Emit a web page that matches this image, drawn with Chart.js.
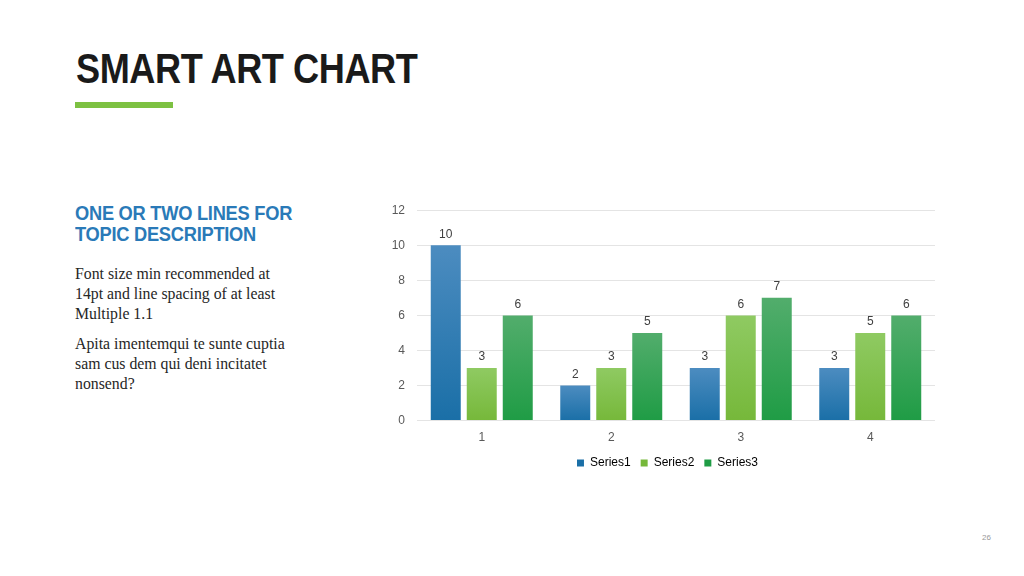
<!DOCTYPE html>
<html>
<head>
<meta charset="utf-8">
<script src="https://cdn.jsdelivr.net/npm/chart.js@4/dist/chart.umd.min.js"></script>
<style>
  html, body { margin: 0; padding: 0; background: #fff; }
  body { width: 1024px; height: 576px; position: relative; overflow: hidden; font-family: "Liberation Sans", Arial, sans-serif; }
  .title { position: absolute; left: 76px; top: 45px; font-weight: bold; font-size: 42px; color: #1a1a1a; letter-spacing: -0.5px; white-space: nowrap; transform: scaleX(0.86); transform-origin: 0 0; }
  .bar { position: absolute; left: 75px; top: 102px; width: 98px; height: 6px; background: #7dc142; }
  .sub { position: absolute; left: 75px; top: 202px; font-weight: bold; font-size: 21px; line-height: 21px; color: #2a7ab8; letter-spacing: -0.3px; white-space: nowrap; transform: scaleX(0.87); transform-origin: 0 0; }
  .body { position: absolute; left: 75px; width: 260px; font-family: "Liberation Serif", serif; font-size: 15.8px; line-height: 20px; color: #262626; white-space: nowrap; }
  .page { position: absolute; left: 982px; top: 533px; font-size: 8px; color: #999; }
  #wrap { position: absolute; left: 380px; top: 191px; width: 570px; height: 288px; }
</style>
</head>
<body>
<div class="title">SMART ART CHART</div>
<div class="bar"></div>
<div class="sub">ONE OR TWO LINES FOR<br>TOPIC DESCRIPTION</div>
<div class="body" style="top:264px">Font size min recommended at<br>14pt and line spacing of at least<br>Multiple 1.1</div>
<div class="body" style="top:334px">Apita imentemqui te sunte cuptia<br>sam cus dem qui deni incitatet<br>nonsend?</div>
<div class="page">26</div>
<div id="wrap"><canvas id="chart"></canvas></div>

<script>
const categories = ["1", "2", "3", "4"];
const series1 = [10, 2, 3, 3];
const series2 = [3, 3, 6, 5];
const series3 = [6, 5, 7, 6];
const yTicks = [0, 2, 4, 6, 8, 10, 12];

// top / bottom colours of each bar gradient
const colors = [
  ["#4c8cc0", "#1a6fa7"],
  ["#8fca62", "#76b83a"],
  ["#52ad6c", "#1f9c45"]
];

function barFill(idx) {
  return context => {
    const chart = context.chart;
    const y = chart.scales.y;
    if (!chart.chartArea || !y || context.parsed == null) return colors[idx][1];
    const top = y.getPixelForValue(context.parsed.y);
    const bottom = y.getPixelForValue(0);
    if (!isFinite(top) || top === bottom) return colors[idx][1];
    const g = chart.ctx.createLinearGradient(0, top, 0, bottom);
    g.addColorStop(0, colors[idx][0]);
    g.addColorStop(1, colors[idx][1]);
    return g;
  };
}

// value labels above bars
const valueLabels = {
  id: "valueLabels",
  afterDatasetsDraw(chart) {
    const ctx = chart.ctx;
    ctx.save();
    ctx.font = "12px 'Liberation Sans', Arial, sans-serif";
    ctx.fillStyle = "#404040";
    ctx.textAlign = "center";
    ctx.textBaseline = "bottom";
    chart.data.datasets.forEach((ds, i) => {
      chart.getDatasetMeta(i).data.forEach((bar, j) => {
        ctx.fillText(ds.data[j], bar.x, bar.y - 5);
      });
    });
    ctx.restore();
  }
};

// legend sits a little right of centre in the original
const legendShift = {
  id: "legendShift",
  afterLayout(chart) {
    if (chart.legend) {
      chart.legend.left += 10;
      chart.legend.right += 10;
    }
  }
};

const names = ["Series1", "Series2", "Series3"];
const allData = [series1, series2, series3];

new Chart(document.getElementById("chart"), {
  type: "bar",
  data: {
    labels: categories,
    datasets: allData.map((d, i) => ({
      label: names[i],
      data: d,
      backgroundColor: barFill(i),
      categoryPercentage: 0.834,
      barPercentage: 0.833
    }))
  },
  options: {
    responsive: true,
    maintainAspectRatio: false,
    animation: false,
    layout: { padding: { top: 11, right: 15, left: 0, bottom: 0 } },
    plugins: {
      legend: {
        position: "bottom",
        labels: {
          generateLabels(chart) {
            return chart.data.datasets.map((ds, i) => ({
              text: ds.label,
              fillStyle: colors[i][1],
              strokeStyle: colors[i][1],
              lineWidth: 0,
              datasetIndex: i
            }));
          },
          boxWidth: 7,
          boxHeight: 7,
          padding: 10,
          color: "#404040",
          font: { size: 12, family: "'Liberation Sans', Arial, sans-serif" }
        }
      },
      tooltip: { enabled: false }
    },
    scales: {
      x: {
        grid: { display: false },
        border: { display: false },
        ticks: { color: "#595959", padding: 2, font: { size: 12, family: "'Liberation Sans', Arial, sans-serif" } }
      },
      y: {
        min: 0,
        max: 12,
        afterBuildTicks(axis) { axis.ticks = yTicks.map(v => ({ value: v })); },
        afterFit(axis) { axis.width = 37; },
        grid: { color: "#e4e4e4", lineWidth: 1, drawTicks: false },
        border: { display: false },
        ticks: { color: "#595959", padding: 12, font: { size: 12, family: "'Liberation Sans', Arial, sans-serif" } }
      }
    }
  },
  plugins: [valueLabels, legendShift]
});
</script>
</body>
</html>
